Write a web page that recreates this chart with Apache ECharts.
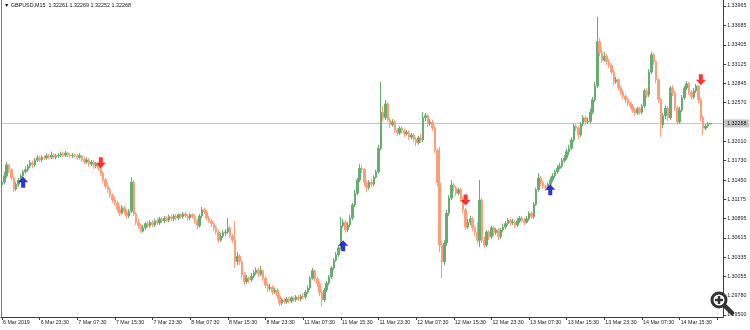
<!DOCTYPE html>
<html><head><meta charset="utf-8">
<script src="https://cdn.jsdelivr.net/npm/echarts@6/dist/echarts.min.js"></script>
<style>html,body{margin:0;padding:0;background:#fff}#c{width:750px;height:330px}</style>
</head><body><div id="c"></div>
<script>
const chartTitle = 'GBPUSD,M15  1.32261 1.32269 1.32252 1.32268';
const lastPrice = 1.32268;
const xTickLabels = ['6 Mar 2019','6 Mar 23:30','7 Mar 07:30','7 Mar 15:30','7 Mar 23:30','8 Mar 07:30','8 Mar 15:30','8 Mar 23:30','11 Mar 07:30','11 Mar 15:30','11 Mar 23:30','12 Mar 07:30','12 Mar 15:30','12 Mar 23:30','13 Mar 07:30','13 Mar 15:30','13 Mar 23:30','14 Mar 07:30','14 Mar 15:30'];
const yTickValues = [1.29500,1.29780,1.30055,1.30335,1.30615,1.30895,1.31175,1.31450,1.31730,1.32010,1.32570,1.32845,1.33125,1.33405,1.33685,1.33965];

const opens = [
1.3138,1.3142,1.3151,1.3167,1.3160,1.3148,1.3132,1.3139,1.3145,1.3151,
1.3157,1.3160,1.3165,1.3170,1.3167,1.3174,1.3177,1.3174,1.3178,1.3177,
1.3180,1.3178,1.3181,1.3178,1.3180,1.3181,1.3183,1.3181,1.3184,1.3181,
1.3180,1.3181,1.3180,1.3178,1.3180,1.3175,1.3171,1.3174,1.3168,1.3171,
1.3165,1.3168,1.3162,1.3155,1.3145,1.3136,1.3131,1.3123,1.3116,1.3112,
1.3103,1.3097,1.3105,1.3099,1.3093,1.3100,1.3142,1.3096,1.3084,1.3079,
1.3071,1.3076,1.3082,1.3079,1.3084,1.3080,1.3086,1.3083,1.3089,1.3086,
1.3090,1.3087,1.3092,1.3089,1.3093,1.3090,1.3095,1.3092,1.3096,1.3093,
1.3090,1.3095,1.3092,1.3086,1.3079,1.3093,1.3102,1.3099,1.3090,1.3086,
1.3082,1.3076,1.3070,1.3058,1.3064,1.3069,1.3070,1.3076,1.3064,1.3058,
1.3027,1.3035,1.3027,1.3008,1.2998,1.3003,1.3001,1.3006,1.3011,1.3015,
1.3009,1.3014,1.3003,1.2993,1.2988,1.2990,1.2983,1.2986,1.2977,1.2967,
1.2972,1.2969,1.2973,1.2970,1.2975,1.2972,1.2976,1.2973,1.2977,1.2976,
1.2983,1.2989,1.3003,1.3014,1.3002,1.2995,1.2982,1.2972,1.2986,1.2996,
1.3005,1.3018,1.3029,1.3037,1.3047,1.3079,1.3084,1.3073,1.3080,1.3090,
1.3109,1.3126,1.3145,1.3162,1.3160,1.3141,1.3134,1.3142,1.3139,1.3149,
1.3157,1.3191,1.3243,1.3235,1.3255,1.3232,1.3225,1.3229,1.3217,1.3213,
1.3220,1.3216,1.3212,1.3214,1.3207,1.3210,1.3204,1.3199,1.3206,1.3203,
1.3235,1.3238,1.3226,1.3229,1.3220,1.3188,1.3141,1.3051,1.3027,1.3054,
1.3097,1.3119,1.3138,1.3134,1.3126,1.3131,1.3118,1.3102,1.3077,1.3084,
1.3089,1.3076,1.3069,1.3058,1.3116,1.3058,1.3051,1.3070,1.3063,1.3076,
1.3069,1.3073,1.3063,1.3073,1.3077,1.3082,1.3087,1.3083,1.3084,1.3080,
1.3086,1.3090,1.3087,1.3084,1.3089,1.3097,1.3092,1.3110,1.3131,1.3148,
1.3141,1.3136,1.3134,1.3139,1.3145,1.3151,1.3157,1.3162,1.3165,1.3173,
1.3177,1.3186,1.3191,1.3203,1.3223,1.3220,1.3210,1.3226,1.3235,1.3229,
1.3230,1.3243,1.3261,1.3281,1.3345,1.3329,1.3318,1.3324,1.3316,1.3311,
1.3301,1.3287,1.3290,1.3278,1.3272,1.3266,1.3261,1.3256,1.3252,1.3246,
1.3242,1.3248,1.3243,1.3252,1.3274,1.3268,1.3301,1.3326,1.3316,1.3290,
1.3261,1.3225,1.3238,1.3249,1.3235,1.3278,1.3271,1.3249,1.3229,1.3246,
1.3264,1.3278,1.3284,1.3272,1.3265,1.3274,1.3281,1.3261,1.3235,1.3220,
1.3223,1.32261];

const closes = [
1.3142,1.3151,1.3167,1.3160,1.3148,1.3132,1.3139,1.3145,1.3151,1.3157,
1.3160,1.3165,1.3170,1.3167,1.3174,1.3177,1.3174,1.3178,1.3177,1.3180,
1.3178,1.3181,1.3178,1.3180,1.3181,1.3183,1.3181,1.3184,1.3181,1.3180,
1.3181,1.3180,1.3178,1.3180,1.3175,1.3171,1.3174,1.3168,1.3171,1.3165,
1.3168,1.3162,1.3155,1.3145,1.3136,1.3131,1.3123,1.3116,1.3112,1.3103,
1.3097,1.3105,1.3099,1.3093,1.3100,1.3142,1.3096,1.3084,1.3079,1.3071,
1.3076,1.3082,1.3079,1.3084,1.3080,1.3086,1.3083,1.3089,1.3086,1.3090,
1.3087,1.3092,1.3089,1.3093,1.3090,1.3095,1.3092,1.3096,1.3093,1.3090,
1.3095,1.3092,1.3086,1.3079,1.3093,1.3102,1.3099,1.3090,1.3086,1.3082,
1.3076,1.3070,1.3058,1.3064,1.3069,1.3070,1.3076,1.3064,1.3058,1.3027,
1.3035,1.3027,1.3008,1.2998,1.3003,1.3001,1.3006,1.3011,1.3015,1.3009,
1.3014,1.3003,1.2993,1.2988,1.2990,1.2983,1.2986,1.2977,1.2967,1.2972,
1.2969,1.2973,1.2970,1.2975,1.2972,1.2976,1.2973,1.2977,1.2976,1.2983,
1.2989,1.3003,1.3014,1.3002,1.2995,1.2982,1.2972,1.2986,1.2996,1.3005,
1.3018,1.3029,1.3037,1.3047,1.3079,1.3084,1.3073,1.3080,1.3090,1.3109,
1.3126,1.3145,1.3162,1.3160,1.3141,1.3134,1.3142,1.3139,1.3149,1.3157,
1.3191,1.3243,1.3235,1.3255,1.3232,1.3225,1.3229,1.3217,1.3213,1.3220,
1.3216,1.3212,1.3214,1.3207,1.3210,1.3204,1.3199,1.3206,1.3203,1.3235,
1.3238,1.3226,1.3229,1.3220,1.3188,1.3141,1.3051,1.3027,1.3054,1.3097,
1.3119,1.3138,1.3134,1.3126,1.3131,1.3118,1.3102,1.3077,1.3084,1.3089,
1.3076,1.3069,1.3058,1.3116,1.3058,1.3051,1.3070,1.3063,1.3076,1.3069,
1.3073,1.3063,1.3073,1.3077,1.3082,1.3087,1.3083,1.3084,1.3080,1.3086,
1.3090,1.3087,1.3084,1.3089,1.3097,1.3092,1.3110,1.3131,1.3148,1.3141,
1.3136,1.3134,1.3139,1.3145,1.3151,1.3157,1.3162,1.3165,1.3173,1.3177,
1.3186,1.3191,1.3203,1.3223,1.3220,1.3210,1.3226,1.3235,1.3229,1.3230,
1.3243,1.3261,1.3281,1.3345,1.3329,1.3318,1.3324,1.3316,1.3311,1.3301,
1.3287,1.3290,1.3278,1.3272,1.3266,1.3261,1.3256,1.3252,1.3246,1.3242,
1.3248,1.3243,1.3252,1.3274,1.3268,1.3301,1.3326,1.3316,1.3290,1.3261,
1.3225,1.3238,1.3249,1.3235,1.3278,1.3271,1.3249,1.3229,1.3246,1.3264,
1.3278,1.3284,1.3272,1.3265,1.3274,1.3281,1.3261,1.3235,1.3220,1.3223,
1.3226,1.32268];

const highs = [
1.3147,1.3157,1.3171,1.3168,1.3162,1.3151,1.3142,1.3148,1.3154,1.3160,
1.3165,1.3168,1.3174,1.3173,1.3177,1.3181,1.3180,1.3181,1.3181,1.3184,
1.3183,1.3186,1.3184,1.3183,1.3184,1.3186,1.3186,1.3187,1.3186,1.3184,
1.3184,1.3183,1.3183,1.3184,1.3181,1.3178,1.3178,1.3177,1.3174,1.3174,
1.3171,1.3170,1.3165,1.3158,1.3148,1.3141,1.3134,1.3126,1.3121,1.3115,
1.3108,1.3109,1.3108,1.3103,1.3103,1.3149,1.3145,1.3099,1.3089,1.3082,
1.3080,1.3084,1.3086,1.3087,1.3087,1.3089,1.3089,1.3092,1.3092,1.3093,
1.3093,1.3095,1.3095,1.3096,1.3096,1.3097,1.3097,1.3099,1.3099,1.3096,
1.3097,1.3097,1.3095,1.3089,1.3096,1.3106,1.3105,1.3102,1.3093,1.3089,
1.3084,1.3079,1.3073,1.3069,1.3073,1.3074,1.3090,1.3079,1.3067,1.3086,
1.3041,1.3038,1.3029,1.3012,1.3008,1.3006,1.3011,1.3015,1.3019,1.3018,
1.3021,1.3016,1.3006,1.2996,1.2995,1.2993,1.2990,1.2989,1.2980,1.2975,
1.2975,1.2976,1.2976,1.2977,1.2977,1.2979,1.2979,1.2980,1.2982,1.2986,
1.2993,1.3006,1.3018,1.3016,1.3005,1.2998,1.2986,1.2989,1.2999,1.3008,
1.3021,1.3032,1.3041,1.3051,1.3092,1.3089,1.3087,1.3084,1.3095,1.3112,
1.3131,1.3148,1.3168,1.3167,1.3162,1.3144,1.3145,1.3147,1.3152,1.3160,
1.3196,1.3287,1.3252,1.3261,1.3258,1.3235,1.3233,1.3232,1.3220,1.3223,
1.3223,1.3219,1.3217,1.3217,1.3213,1.3213,1.3207,1.3209,1.3212,1.3243,
1.3242,1.3240,1.3233,1.3232,1.3223,1.3191,1.3193,1.3058,1.3058,1.3102,
1.3123,1.3145,1.3141,1.3136,1.3134,1.3134,1.3121,1.3105,1.3089,1.3093,
1.3092,1.3079,1.3084,1.3145,1.3119,1.3063,1.3073,1.3073,1.3079,1.3079,
1.3076,1.3076,1.3076,1.3082,1.3086,1.3090,1.3090,1.3089,1.3087,1.3090,
1.3093,1.3093,1.3090,1.3093,1.3100,1.3100,1.3113,1.3134,1.3155,1.3151,
1.3144,1.3139,1.3142,1.3149,1.3155,1.3160,1.3167,1.3170,1.3177,1.3181,
1.3190,1.3196,1.3207,1.3227,1.3226,1.3223,1.3229,1.3239,1.3238,1.3235,
1.3248,1.3265,1.3287,1.3381,1.3350,1.3333,1.3330,1.3327,1.3320,1.3314,
1.3304,1.3294,1.3292,1.3281,1.3275,1.3269,1.3264,1.3259,1.3255,1.3249,
1.3251,1.3251,1.3255,1.3277,1.3278,1.3305,1.3330,1.3329,1.3318,1.3292,
1.3264,1.3242,1.3253,1.3252,1.3281,1.3282,1.3274,1.3252,1.3251,1.3268,
1.3281,1.3288,1.3287,1.3275,1.3278,1.3284,1.3282,1.3264,1.3238,1.3226,
1.3229,1.32269];

const lows = [
1.3134,1.3139,1.3148,1.3155,1.3144,1.3128,1.3129,1.3135,1.3142,1.3148,
1.3154,1.3157,1.3162,1.3162,1.3164,1.3171,1.3171,1.3171,1.3174,1.3174,
1.3175,1.3175,1.3175,1.3175,1.3177,1.3178,1.3178,1.3178,1.3178,1.3177,
1.3177,1.3177,1.3174,1.3175,1.3171,1.3168,1.3168,1.3164,1.3165,1.3161,
1.3162,1.3158,1.3151,1.3141,1.3132,1.3126,1.3119,1.3112,1.3108,1.3099,
1.3093,1.3095,1.3095,1.3089,1.3090,1.3097,1.3093,1.3080,1.3074,1.3069,
1.3069,1.3073,1.3076,1.3076,1.3077,1.3077,1.3080,1.3080,1.3083,1.3083,
1.3084,1.3084,1.3086,1.3086,1.3087,1.3087,1.3089,1.3089,1.3090,1.3086,
1.3087,1.3089,1.3082,1.3074,1.3076,1.3090,1.3096,1.3087,1.3083,1.3077,
1.3071,1.3066,1.3054,1.3056,1.3061,1.3064,1.3067,1.3061,1.3054,1.3018,
1.3022,1.3022,1.3003,1.2993,1.2995,1.2996,1.2998,1.3003,1.3008,1.3005,
1.3006,1.2999,1.2989,1.2983,1.2985,1.2979,1.2980,1.2973,1.2963,1.2964,
1.2966,1.2966,1.2967,1.2967,1.2969,1.2969,1.2970,1.2970,1.2973,1.2973,
1.2980,1.2986,1.3001,1.2998,1.2990,1.2977,1.2962,1.2969,1.2983,1.2993,
1.3002,1.3015,1.3027,1.3034,1.3044,1.3076,1.3069,1.3070,1.3077,1.3087,
1.3106,1.3123,1.3142,1.3155,1.3136,1.3128,1.3131,1.3135,1.3136,1.3147,
1.3154,1.3188,1.3230,1.3232,1.3229,1.3220,1.3222,1.3213,1.3209,1.3210,
1.3212,1.3207,1.3209,1.3203,1.3204,1.3200,1.3194,1.3196,1.3199,1.3200,
1.3230,1.3222,1.3223,1.3216,1.3184,1.3136,1.3041,1.3003,1.3022,1.3050,
1.3093,1.3116,1.3129,1.3122,1.3123,1.3113,1.3097,1.3073,1.3074,1.3080,
1.3071,1.3064,1.3054,1.3048,1.3054,1.3047,1.3048,1.3058,1.3060,1.3064,
1.3066,1.3058,1.3060,1.3070,1.3074,1.3079,1.3079,1.3080,1.3076,1.3077,
1.3083,1.3083,1.3080,1.3082,1.3086,1.3089,1.3089,1.3108,1.3128,1.3136,
1.3132,1.3129,1.3131,1.3136,1.3142,1.3148,1.3154,1.3160,1.3162,1.3170,
1.3174,1.3181,1.3188,1.3200,1.3216,1.3204,1.3207,1.3223,1.3225,1.3226,
1.3227,1.3240,1.3258,1.3278,1.3324,1.3314,1.3316,1.3311,1.3307,1.3297,
1.3282,1.3284,1.3274,1.3268,1.3262,1.3256,1.3252,1.3248,1.3242,1.3238,
1.3239,1.3239,1.3240,1.3249,1.3264,1.3265,1.3298,1.3311,1.3285,1.3256,
1.3207,1.3220,1.3233,1.3230,1.3232,1.3266,1.3245,1.3225,1.3226,1.3243,
1.3261,1.3275,1.3268,1.3261,1.3262,1.3271,1.3256,1.3230,1.3210,1.3217,
1.3220,1.32252];

// signal arrows: [bar index, price]
const buySignals = [[9,1.3142],[145,1.3050],[233,1.3131]];
const sellSignals = [[42,1.3170],[197,1.3116],[297,1.3290]];

const SLOTS = 307;
// M30 time categories, skipping the weekend
const categories = [];
{
  let t = Date.UTC(2019,2,6,15,30);
  while (categories.length < SLOTS) {
    const d = new Date(t);
    const wd = d.getUTCDay();
    if (wd !== 0 && wd !== 6) {
      categories.push(d.toISOString().slice(0,16).replace('T',' '));
    }
    t += 30*60000;
  }
}

const candles = opens.map((o,i)=>[o, closes[i], lows[i], highs[i]]);

const GREEN = '#67ad72';
const SALMON = '#ff9d78';
const FONT = 'Liberation Sans';

const chart = echarts.init(document.getElementById('c'), null, {renderer:'canvas'});
chart.setOption({
  animation: false,
  backgroundColor: '#ffffff',
  grid: {left: 0.5, right: 26.8, top: 0, bottom: 13, containLabel: false},
  xAxis: {
    type: 'category',
    data: categories,
    boundaryGap: true,
    axisLine: {show: true, lineStyle: {color: '#3c3c3c', width: 1}},
    axisTick: {show: true, alignWithLabel: true, length: 3, interval: (i)=> i % 16 === 0, lineStyle: {color: '#3c3c3c'}},
    axisLabel: {
      show: true, interval: (i)=> i % 16 === 0,
      formatter: (v, i)=> xTickLabels[i/16] || '',
      align: 'left', margin: 3, fontSize: 5.3, fontFamily: FONT, color: '#222', padding: [0,0,0,1]
    },
    splitLine: {show: false}
  },
  yAxis: {
    type: 'value',
    position: 'right',
    min: 1.29471,
    max: 1.34052,
    axisLine: {show: true, lineStyle: {color: '#3c3c3c', width: 1}},
    axisTick: {show: true, length: 3, customValues: yTickValues, lineStyle: {color: '#3c3c3c'}},
    axisLabel: {show: true, customValues: yTickValues, formatter: (v)=> Number(v).toFixed(5), margin: 4, fontSize: 5.3, fontFamily: FONT, color: '#222'},
    splitLine: {show: false}
  },
  series: [
    {
      type: 'candlestick', z: 2,
      data: candles,
      barWidth: 2,
      itemStyle: {color: GREEN, color0: SALMON, borderColor: GREEN, borderColor0: SALMON, borderWidth: 1},
      markLine: {
        z: 1, silent: true, precision: 5, symbol: ['none','none'], animation: false,
        lineStyle: {color: '#c6c6c6', width: 1, type: 'solid'},
        label: {show: true, position: 'end', distance: 1, formatter: lastPrice.toFixed(5),
          backgroundColor: '#c6c6c6', color: '#111', fontSize: 5.3, fontFamily: FONT, padding: [1.5,3,1.5,3]},
        data: [{yAxis: lastPrice}]
      }
    },
    {
      type: 'scatter', z: 3, data: buySignals,
      symbol: 'path://M5,0 L10,5.5 L7,5.5 L7,11 L3,11 L3,5.5 L0,5.5 Z',
      symbolSize: [10, 11], itemStyle: {color: '#0000c0'}
    },
    {
      type: 'scatter', z: 3, data: sellSignals,
      symbol: 'path://M3,0 L7,0 L7,5.5 L10,5.5 L5,11 L0,5.5 L3,5.5 Z',
      symbolSize: [10, 11], itemStyle: {color: '#ff0000'}
    }
  ],
  graphic: [
    {type: 'line', shape: {x1: 1.5, y1: 0, x2: 1.5, y2: 317}, style: {stroke: '#7a7a7a', lineWidth: 1}, z: 10},
    {type: 'text', left: 4, top: 3, style: {text: '\u25BC ' + chartTitle, fontSize: 5.4, fontFamily: FONT, fill: '#111'}, z: 10},
    {type: 'group', z: 20, children: [
      {type: 'line', shape: {x1: 724, y1: 305, x2: 732, y2: 313}, style: {stroke: '#333', lineWidth: 4.5, lineCap: 'round'}, z: 20},
      {type: 'circle', shape: {cx: 719, cy: 300, r: 7}, style: {fill: '#fff', stroke: '#333', lineWidth: 3}, z: 21},
      {type: 'line', shape: {x1: 715, y1: 300, x2: 723, y2: 300}, style: {stroke: '#333', lineWidth: 2.5}, z: 22},
      {type: 'line', shape: {x1: 719, y1: 296, x2: 719, y2: 304}, style: {stroke: '#333', lineWidth: 2.5}, z: 22}
    ]}
  ]
});
</script>
</body></html>
